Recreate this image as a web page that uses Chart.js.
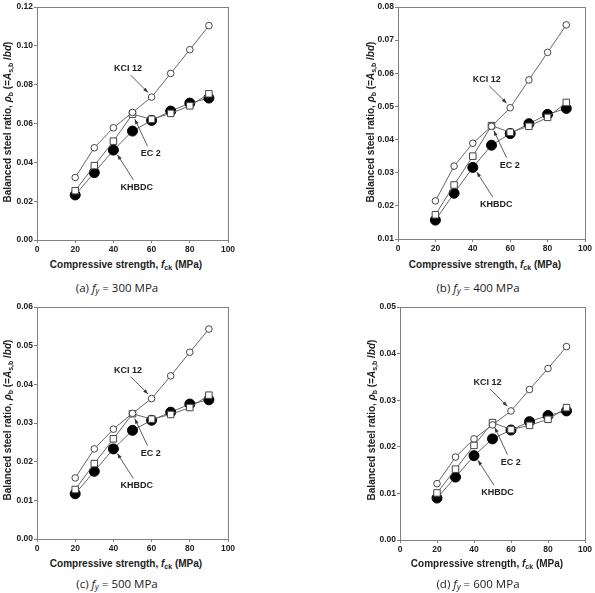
<!DOCTYPE html>
<html>
<head>
<meta charset="utf-8">
<script src="https://cdn.jsdelivr.net/npm/chart.js@4"></script>
<style>
  body { margin: 0; background: #fff; width: 595px; height: 593px; position: relative; overflow: hidden; }
  canvas { position: absolute; }
  .xt, .yt { position: absolute; font-family: "Liberation Sans", Arial, sans-serif; font-weight: bold; font-size: 10px; color: #222; white-space: nowrap; }
  .xt { transform: translate(-50%, -50%); }
  .yt { transform: translate(-50%, -50%) rotate(-90deg); }
  .cap { position: absolute; transform: translate(-50%, -50%); font-family: "Open Sans", "Noto Sans", sans-serif; font-size: 11.5px; color: #222; white-space: nowrap; }
  sub { font-size: 70%; vertical-align: -2px; line-height: 0; }
</style>
</head>
<body>
<canvas id="c1" width="240" height="258" style="left:0;top:0"></canvas>
<canvas id="c2" width="234" height="257" style="left:361px;top:0"></canvas>
<canvas id="c3" width="240" height="257" style="left:0;top:300px"></canvas>
<canvas id="c4" width="232" height="258" style="left:363px;top:300px"></canvas>

<div class="yt" style="left:7px;top:122px">Balanced steel ratio, <i>ρ</i><sub>b</sub> (=<i>A</i><sub>s,b</sub> /<i>bd</i>)</div>
<div class="xt" style="left:126px;top:264px">Compressive strength, <i>f</i><sub>ck</sub> (MPa)</div>
<div class="cap" style="left:117px;top:287px">(a) <i>f<sub>y</sub></i> = 300 MPa</div>

<div class="yt" style="left:370px;top:122px">Balanced steel ratio, <i>ρ</i><sub>b</sub> (=<i>A</i><sub>s,b</sub> /<i>bd</i>)</div>
<div class="xt" style="left:485px;top:264px">Compressive strength, <i>f</i><sub>ck</sub> (MPa)</div>
<div class="cap" style="left:478px;top:287px">(b) <i>f<sub>y</sub></i> = 400 MPa</div>

<div class="yt" style="left:7px;top:420px">Balanced steel ratio, <i>ρ</i><sub>b</sub> (=<i>A</i><sub>s,b</sub> /<i>bd</i>)</div>
<div class="xt" style="left:126px;top:563px">Compressive strength, <i>f</i><sub>ck</sub> (MPa)</div>
<div class="cap" style="left:117px;top:583px">(c) <i>f<sub>y</sub></i> = 500 MPa</div>

<div class="yt" style="left:371px;top:420px">Balanced steel ratio, <i>ρ</i><sub>b</sub> (=<i>A</i><sub>s,b</sub> /<i>bd</i>)</div>
<div class="xt" style="left:487px;top:563px">Compressive strength, <i>f</i><sub>ck</sub> (MPa)</div>
<div class="cap" style="left:478px;top:583px">(d) <i>f<sub>y</sub></i> = 600 MPa</div>

<script>
const fck = [20, 30, 40, 50, 60, 70, 80, 90];

// fy = 300 MPa
const kci300   = [0.0322, 0.0475, 0.0578, 0.0657, 0.0736, 0.0858, 0.0980, 0.1104];
const ec2_300  = [0.0254, 0.0383, 0.0509, 0.0648, 0.0622, 0.0652, 0.0691, 0.0753];
const khbdc300 = [0.0232, 0.0347, 0.0463, 0.0561, 0.0616, 0.0664, 0.0705, 0.0731];
// fy = 400 MPa
const kci400   = [0.0215, 0.0320, 0.0389, 0.0440, 0.0496, 0.0580, 0.0663, 0.0746];
const ec2_400  = [0.0173, 0.0263, 0.0350, 0.0442, 0.0422, 0.0440, 0.0467, 0.0512];
const khbdc400 = [0.0157, 0.0238, 0.0316, 0.0383, 0.0418, 0.0448, 0.0476, 0.0494];
// fy = 500 MPa
const kci500   = [0.0158, 0.0233, 0.0284, 0.0325, 0.0363, 0.0422, 0.0483, 0.0543];
const ec2_500  = [0.0128, 0.0195, 0.0259, 0.0324, 0.0310, 0.0322, 0.0340, 0.0372];
const khbdc500 = [0.0117, 0.0175, 0.0233, 0.0281, 0.0307, 0.0328, 0.0349, 0.0360];
// fy = 600 MPa
const kci600   = [0.0121, 0.0178, 0.0217, 0.0247, 0.0277, 0.0323, 0.0368, 0.0415];
const ec2_600  = [0.0101, 0.0152, 0.0203, 0.0252, 0.0237, 0.0246, 0.0259, 0.0284];
const khbdc600 = [0.0090, 0.0135, 0.0181, 0.0217, 0.0236, 0.0254, 0.0267, 0.0277];

const seriesNames = ["KCI 12", "EC 2", "KHBDC"];

// arrow labels: pixel offsets from the marked point (dataset, index)
const arrowNotes = [
  { ds: 0, i: 4, tip: [-3.6, -4.6], tail: [-21, -22], text: [-23.5, -28.5] },
  { ds: 1, i: 3, tip: [2.3, 5], tail: [15, 32], text: [18.3, 39.7] },
  { ds: 2, i: 2, tip: [4, 4.7], tail: [20, 29.7], text: [23.4, 37] }
];

// frame around plot + arrow labels
const framePlugin = {
  id: "frame",
  beforeDatasetsDraw(chart) {
    const { ctx, chartArea: a } = chart;
    ctx.save();
    ctx.strokeStyle = "#808080";
    ctx.lineWidth = 1;
    ctx.strokeRect(Math.round(a.left) + 0.5, Math.round(a.top) + 0.5,
      Math.round(a.right - a.left), Math.round(a.bottom - a.top));
    ctx.restore();
  },
  afterDatasetsDraw(chart) {
    const { ctx, scales: { x, y } } = chart;
    ctx.save();
    ctx.font = "bold 9px 'Liberation Sans', Arial, sans-serif";
    ctx.textAlign = "center";
    ctx.textBaseline = "middle";
    arrowNotes.forEach(n => {
      const ds = chart.data.datasets[n.ds];
      const px = x.getPixelForValue(fck[n.i]);
      const py = y.getPixelForValue(ds.data[n.i].y);
      const tx = px + n.tip[0], ty = py + n.tip[1];
      const sx = px + n.tail[0], sy = py + n.tail[1];
      ctx.strokeStyle = "#333";
      ctx.fillStyle = "#333";
      ctx.lineWidth = 0.8;
      ctx.beginPath();
      ctx.moveTo(sx, sy);
      ctx.lineTo(tx, ty);
      ctx.stroke();
      const ang = Math.atan2(ty - sy, tx - sx);
      ctx.beginPath();
      ctx.moveTo(tx, ty);
      ctx.lineTo(tx - 5 * Math.cos(ang) + 1.8 * Math.sin(ang), ty - 5 * Math.sin(ang) - 1.8 * Math.cos(ang));
      ctx.lineTo(tx - 5 * Math.cos(ang) - 1.8 * Math.sin(ang), ty - 5 * Math.sin(ang) + 1.8 * Math.cos(ang));
      ctx.closePath();
      ctx.fill();
      ctx.fillStyle = "#222";
      ctx.fillText(ds.label, px + n.text[0], py + n.text[1]);
    });
    ctx.restore();
  }
};

function createPanel(id, kci, ec2, khbdc, yMin, yMax, yStep, padRight) {
  new Chart(id, {
    type: "line",
    data: {
      datasets: [
        {
          label: seriesNames[0], data: kci, order: 1,
          borderColor: "#666", borderWidth: 1,
          pointStyle: "circle", pointRadius: 3.3,
          pointBackgroundColor: "#fff", pointBorderColor: "#444", pointBorderWidth: 1
        },
        {
          label: seriesNames[1], data: ec2, order: 2,
          borderColor: "#666", borderWidth: 1,
          pointStyle: "rect", pointRadius: 4.6,
          pointBackgroundColor: "#fff", pointBorderColor: "#444", pointBorderWidth: 1
        },
        {
          label: seriesNames[2], data: khbdc, order: 3,
          borderColor: "#666", borderWidth: 1,
          pointStyle: "circle", pointRadius: 5,
          pointBackgroundColor: "#000", pointBorderColor: "#000", pointBorderWidth: 1
        }
      ].map(d => Object.assign(d, { data: d.data.map((v, i) => ({ x: fck[i], y: v })) }))
    },
    options: {
      responsive: false,
      animation: false,
      devicePixelRatio: 1,
      layout: { padding: { top: 7, right: padRight, left: 0, bottom: 0 } },
      plugins: {
        legend: { display: false },
        tooltip: { enabled: false }
      },
      scales: {
        x: {
          type: "linear", min: 0, max: 100,
          grid: { drawOnChartArea: false, drawTicks: true, tickLength: 3, color: "#808080" },
          border: { display: false },
          ticks: { stepSize: 20, padding: 2, color: "#222", font: { family: "'Liberation Sans', Arial", weight: "bold", size: 8.5 } },
          afterFit: s => { s.height = 18; }
        },
        y: {
          min: yMin, max: yMax,
          grid: { drawOnChartArea: false, drawTicks: true, tickLength: 3, color: "#808080" },
          border: { display: false },
          ticks: {
            stepSize: yStep, padding: 1, color: "#222",
            font: { family: "'Liberation Sans', Arial", weight: "bold", size: 8.5 },
            callback: v => v.toFixed(2)
          },
          afterFit: s => { s.width = 37; }
        }
      }
    },
    plugins: [framePlugin]
  });
}

createPanel("c1", kci300, ec2_300, khbdc300, 0, 0.12, 0.02, 12);
createPanel("c2", kci400, ec2_400, khbdc400, 0.01, 0.08, 0.01, 10);
createPanel("c3", kci500, ec2_500, khbdc500, 0, 0.06, 0.01, 12);
createPanel("c4", kci600, ec2_600, khbdc600, 0, 0.05, 0.01, 10);
</script>
</body>
</html>
